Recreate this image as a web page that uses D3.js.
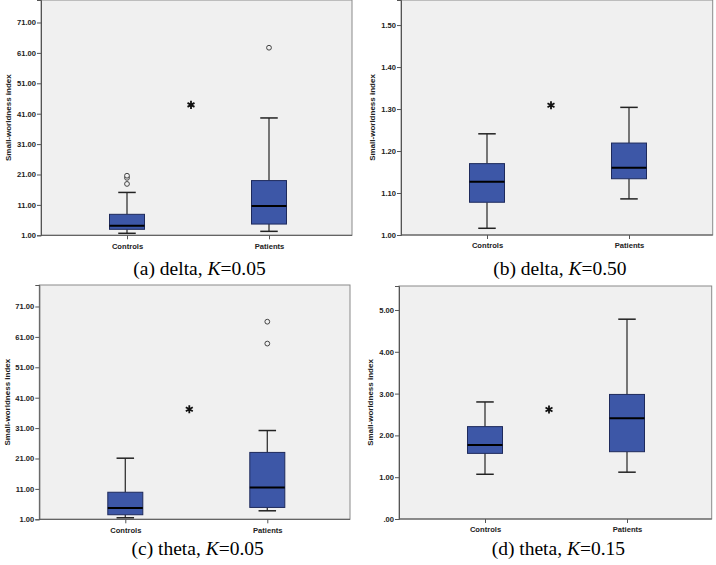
<!DOCTYPE html>
<html><head><meta charset="utf-8">
<script src="https://cdn.jsdelivr.net/npm/d3@7"></script>
<style>body{margin:0;background:#fff}svg{display:block}</style>
</head><body>
<svg id="c" width="716" height="565"></svg>
<script>
const categories = ["Controls", "Patients"];
const captionLetters = ["a", "b", "c", "d"];
const captionBands = ["delta", "delta", "theta", "theta"];
const captionK = ["0.05", "0.50", "0.05", "0.15"];
// [lower whisker, Q1, median, Q3, upper whisker] per category
const deltaK005Boxes = [[1.66, 2.97, 4.16, 7.9, 15.1], [2.3, 4.7, 10.6, 19.0, 39.6]];
const deltaK005Outliers = [[17.9, 19.9, 20.6], [62.7]];
const deltaK050Boxes = [[1.016, 1.078, 1.127, 1.170, 1.241], [1.086, 1.134, 1.160, 1.219, 1.304]];
const deltaK050Outliers = [[], []];
const thetaK005Boxes = [[1.5, 2.5, 4.7, 9.9, 21.1], [3.8, 4.9, 11.5, 23.0, 30.2]];
const thetaK005Outliers = [[], [58.8, 66.0]];
const thetaK015Boxes = [[1.07, 1.57, 1.77, 2.21, 2.80], [1.12, 1.61, 2.41, 2.98, 4.78]];
const thetaK015Outliers = [[], []];
const asteriskValues = [43.9, 1.309, 37.2, 2.62];
const yTicksDeltaK005 = [1, 11, 21, 31, 41, 51, 61, 71];
const yTicksDeltaK050 = [1.0, 1.1, 1.2, 1.3, 1.4, 1.5];
const yTicksThetaK005 = [1, 11, 21, 31, 41, 51, 61, 71];
const yTicksThetaK015 = [0, 1, 2, 3, 4, 5];
const yDomains = [[1, 78.4], [1, 1.5597], [1, 78.07], [0, 5.574]];
const yLabel = "Small-worldness index";

const boxesAll = [deltaK005Boxes, deltaK050Boxes, thetaK005Boxes, thetaK015Boxes];
const outliersAll = [deltaK005Outliers, deltaK050Outliers, thetaK005Outliers, thetaK015Outliers];
const ticksAll = [yTicksDeltaK005, yTicksDeltaK050, yTicksThetaK005, yTicksThetaK015];

const layout = [
  {x0: 41, x1: 352, y0: 0, y1: 235.3, titleX: 8.5, capY: 275},
  {x0: 401, x1: 712.7, y0: 0, y1: 235, titleX: 372.5, capY: 275},
  {x0: 39.3, x1: 350, y0: 285, y1: 519.3, titleX: 7, capY: 555},
  {x0: 399, x1: 711.7, y0: 286, y1: 519, titleX: 370, capY: 555}
];

const svg = d3.select("#c");
const fmt = d => d3.format(".2f")(d).replace(/^0\./, ".");
const boxFill = "#3d57a7";
const boxStroke = "#1e2a5c";
const boxW = 35;
const sans = "Liberation Sans, Arial, sans-serif";

layout.forEach((L, i) => {
  const g = svg.append("g");
  const y = d3.scaleLinear().domain(yDomains[i]).range([L.y1, L.y0]);
  const x = d3.scalePoint().domain(categories).range([L.x0 + 86, L.x0 + 228]);

  g.append("rect").attr("x", L.x0).attr("y", L.y0)
    .attr("width", L.x1 - L.x0).attr("height", L.y1 - L.y0)
    .attr("fill", "#f0f0f0").attr("stroke", "#8a8a8a").attr("stroke-width", 1);
  // bottom axis line across full frame
  g.append("line").attr("x1", L.x0).attr("x2", L.x1).attr("y1", L.y1).attr("y2", L.y1)
    .attr("stroke", "#555").attr("stroke-width", 1);

  // y axis
  const ya = g.append("g").attr("transform", `translate(${L.x0},0)`)
    .call(d3.axisLeft(y).tickValues(ticksAll[i]).tickFormat(fmt).tickSize(4).tickPadding(1));
  ya.select(".domain").attr("stroke", "#555");
  ya.selectAll(".tick line").attr("stroke", "#555");
  ya.selectAll("text").attr("font-family", sans)
    .attr("font-weight", "bold").attr("font-size", "7.6px").attr("fill", "#222");

  // x axis
  const xa = g.append("g").attr("transform", `translate(0,${L.y1})`)
    .call(d3.axisBottom(x).tickSize(4).tickPadding(4));
  xa.select(".domain").remove();
  xa.selectAll(".tick line").attr("stroke", "#555");
  xa.selectAll("text").attr("font-family", sans)
    .attr("font-weight", "bold").attr("font-size", "7.6px").attr("fill", "#222");

  // y title
  g.append("text").attr("transform", `translate(${L.titleX},${(L.y0 + L.y1) / 2}) rotate(-90)`)
    .attr("text-anchor", "middle").attr("dominant-baseline", "central")
    .attr("font-family", sans).attr("font-weight", "bold")
    .attr("font-size", "8px").attr("fill", "#222").text(yLabel);

  // boxes
  categories.forEach((c, j) => {
    const b = boxesAll[i][j];
    const cx = x(c);
    g.append("line").attr("x1", cx).attr("x2", cx).attr("y1", y(b[0])).attr("y2", y(b[1]))
      .attr("stroke", "#333").attr("stroke-width", 1.3);
    g.append("line").attr("x1", cx).attr("x2", cx).attr("y1", y(b[3])).attr("y2", y(b[4]))
      .attr("stroke", "#333").attr("stroke-width", 1.3);
    [b[0], b[4]].forEach(v => {
      g.append("line").attr("x1", cx - boxW / 4).attr("x2", cx + boxW / 4)
        .attr("y1", y(v)).attr("y2", y(v)).attr("stroke", "#222").attr("stroke-width", 1.5);
    });
    g.append("rect").attr("x", cx - boxW / 2).attr("width", boxW)
      .attr("y", y(b[3])).attr("height", y(b[1]) - y(b[3]))
      .attr("fill", boxFill).attr("stroke", boxStroke).attr("stroke-width", 1);
    g.append("line").attr("x1", cx - boxW / 2).attr("x2", cx + boxW / 2)
      .attr("y1", y(b[2])).attr("y2", y(b[2])).attr("stroke", "#000").attr("stroke-width", 2);
    outliersAll[i][j].forEach(v => {
      g.append("circle").attr("cx", cx).attr("cy", y(v)).attr("r", 2.4)
        .attr("fill", "#f0f0f0").attr("stroke", "#444").attr("stroke-width", 1);
    });
  });

  // significance asterisk
  const ax = (x(categories[0]) + x(categories[1])) / 2 - 7;
  const sym = d3.symbolAsterisk ? d3.symbol().type(d3.symbolAsterisk).size(45) : null;
  if (sym) {
    g.append("path").attr("d", sym()).attr("transform", `translate(${ax},${y(asteriskValues[i])})`)
      .attr("fill", "none").attr("stroke", "#111").attr("stroke-width", 1.8);
  } else {
    g.append("text").attr("x", ax).attr("y", y(asteriskValues[i]) + 9).attr("text-anchor", "middle")
      .attr("font-family", sans).attr("font-weight", "bold").attr("font-size", "15px").text("*");
  }

  // caption
  const cap = g.append("text").attr("x", (L.x0 + L.x1) / 2 + 3).attr("y", L.capY)
    .attr("text-anchor", "middle").attr("font-family", "Liberation Serif, Times New Roman, serif")
    .attr("font-size", "19.5px").attr("fill", "#000");
  cap.append("tspan").text(`(${captionLetters[i]}) ${captionBands[i]}, `);
  cap.append("tspan").attr("font-style", "italic").text("K");
  cap.append("tspan").text(`=${captionK[i]}`);
});
</script>
</body></html>
